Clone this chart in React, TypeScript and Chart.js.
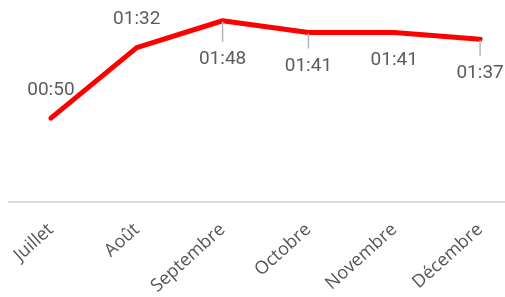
import React, { useEffect, useRef } from "react";
import { Chart, registerables } from "chart.js";

Chart.register(...registerables);

const months = ["Juillet", "Août", "Septembre", "Octobre", "Novembre", "Décembre"];
// average durations in seconds (displayed as mm:ss)
const durations = [50, 92, 108, 101, 101, 97];

const fmt = (s: number) => {
  const m = Math.floor(s / 60);
  const r = s % 60;
  return `${String(m).padStart(2, "0")}:${String(r).padStart(2, "0")}`;
};

// label placement style per point (offset from point, leader line)
const labelLayout = [
  { dy: -28, leader: false },
  { dy: -28, leader: false },
  { dy: 39, leader: true },
  { dy: 34, leader: true },
  { dy: 28, leader: false },
  { dy: 34.5, leader: true },
];

const valueLabels = {
  id: "valueLabels",
  afterDatasetsDraw(chart: any) {
    const ctx = chart.ctx;
    const meta = chart.getDatasetMeta(0);
    const data = chart.data.datasets[0].data as number[];
    ctx.save();
    meta.data.forEach((pt: any, i: number) => {
      const { x, y } = pt.getProps(["x", "y"], true);
      const lay = labelLayout[i];
      if (lay.leader) {
        ctx.strokeStyle = "#b4b4b4";
        ctx.lineWidth = 1.5;
        ctx.beginPath();
        ctx.moveTo(x, y + 1);
        ctx.lineTo(x, y + lay.dy - 18);
        ctx.stroke();
      }
      ctx.fillStyle = "#5c5c5c";
      ctx.font = "19px Roboto";
      ctx.textAlign = "center";
      ctx.textBaseline = "middle";
      ctx.fillText(fmt(data[i]), x, y + lay.dy);
    });
    ctx.restore();
  },
};

export default function App() {
  const ref = useRef<HTMLCanvasElement>(null);
  useEffect(() => {
    if (!ref.current) return;
    const chart = new Chart(ref.current, {
      type: "line",
      data: {
        labels: months,
        datasets: [
          {
            data: durations,
            borderColor: "#ff0000",
            borderWidth: 5,
            pointRadius: 0,
            pointHoverRadius: 0,
            tension: 0,
            fill: false,
            borderCapStyle: "round",
            borderJoinStyle: "round",
          },
        ],
      },
      options: {
        responsive: false,
        animation: false,
        devicePixelRatio: 1,
        layout: { padding: { top: 1, left: 0, right: 0, bottom: 0 } },
        plugins: { legend: { display: false }, tooltip: { enabled: false } },
        scales: {
          x: {
            offset: true,
            grid: { display: false, drawTicks: false },
            border: { display: true, color: "#dddddd", width: 2 },
            ticks: {
              autoSkip: false,
              minRotation: 42,
              maxRotation: 42,
              padding: 17,
              color: "#555555",
              font: { family: "Open Sans", size: 18 },
            },
            afterFit: (s: any) => {
              s.height = 95;
              s.paddingLeft = 0;
              s.paddingRight = 0;
            },
          },
          y: {
            display: false,
            min: 0,
            max: 115,
          },
        },
      },
      plugins: [valueLabels],
    });
    return () => chart.destroy();
  }, []);
  return (
    <div
      style={{
        position: "absolute",
        left: 8,
        top: 8,
        width: 497,
        height: 289,
        overflow: "hidden",
      }}
    >
      <canvas ref={ref} width={515} height={289} style={{ display: "block" }} />
    </div>
  );
}
